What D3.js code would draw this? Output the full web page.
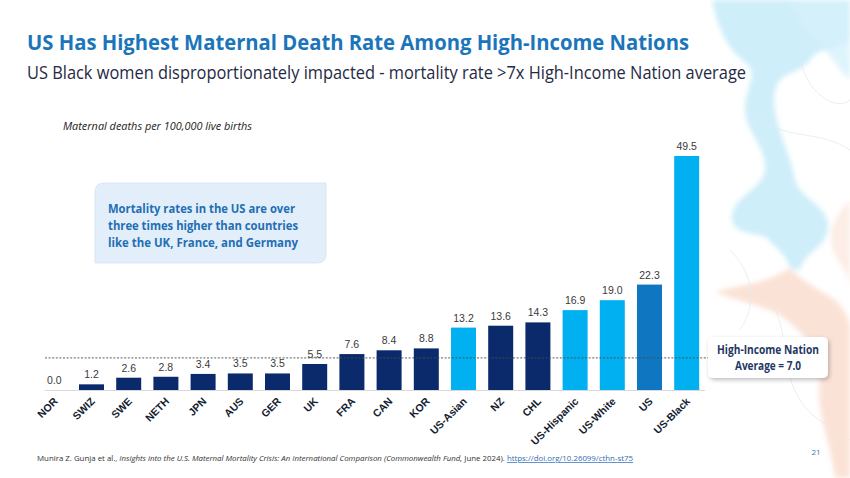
<!DOCTYPE html>
<html><head><meta charset="utf-8">
<script src="https://cdn.jsdelivr.net/npm/d3@7/dist/d3.min.js"></script>
<style>html,body{margin:0;padding:0;background:#fff;}svg{display:block;}</style>
</head><body>
<svg id="chart" width="850" height="478"></svg>
<script>
const categories = ["NOR","SWIZ","SWE","NETH","JPN","AUS","GER","UK","FRA","CAN","KOR","US-Asian","NZ","CHL","US-Hispanic","US-White","US","US-Black"];
const values = [0.0,1.2,2.6,2.8,3.4,3.5,3.5,5.5,7.6,8.4,8.8,13.2,13.6,14.3,16.9,19.0,22.3,49.5];
const groups = ["country","country","country","country","country","country","country","country","country","country","country","us-sub","country","country","us-sub","us-sub","us","us-sub"];
const averageValue = 7.0;
const titleText = "US Has Highest Maternal Death Rate Among High-Income Nations";
const subtitleText = "US Black women disproportionately impacted - mortality rate >7x High-Income Nation average";
const unitText = "Maternal deaths per 100,000 live births";
const calloutLines = ["Mortality rates in the US are over","three times higher than countries","like the UK, France, and Germany"];
const avgLines = ["High-Income Nation","Average = 7.0"];

const colors = {country:"#0b2a6b","us-sub":"#00b0f0",us:"#0f76c2"};
const svg = d3.select("#chart");

// background decoration
const defs = svg.append("defs");
defs.append("filter").attr("id","blur").append("feGaussianBlur").attr("stdDeviation",2.5);
const sh = defs.append("filter").attr("id","shadow").attr("x","-20%").attr("y","-20%").attr("width","150%").attr("height","160%");
sh.append("feDropShadow").attr("dx",1.5).attr("dy",2).attr("stdDeviation",2).attr("flood-color","#000").attr("flood-opacity",0.25);
const deco = svg.append("g").attr("filter","url(#blur)");
deco.append("path").attr("fill","#c6ebf8").attr("opacity",0.85)
  .attr("d","M712,0 L850,0 L850,40 C830,55 820,45 810,60 C800,75 780,70 775,90 C770,120 790,150 795,180 C800,200 830,205 828,228 C825,250 805,250 800,270 L790,268 C785,250 770,245 768,238 C755,232 730,235 732,215 C735,195 762,190 765,170 C768,150 745,130 745,110 C745,85 760,75 745,62 C735,55 720,40 712,0 Z");
deco.append("path").attr("fill","#d6f1fb").attr("opacity",0.8)
  .attr("d","M790,0 L850,0 L850,80 C838,70 828,50 815,40 C805,30 795,20 790,0 Z");
deco.append("path").attr("fill","#f9d8c8").attr("opacity",0.75)
  .attr("d","M790,268 C800,280 820,290 835,300 C845,310 850,320 850,330 L850,478 L835,478 C830,440 815,410 820,380 C822,350 800,330 780,315 C760,305 735,300 715,292 C735,285 765,285 790,268 Z");
deco.append("path").attr("fill","#fbe6dc").attr("opacity",0.7)
  .attr("d","M850,200 C835,215 825,235 835,255 C845,270 850,280 850,290 Z");
const lines = svg.append("g").attr("fill","none").attr("stroke","#e6e9ee").attr("stroke-width",0.8);
lines.append("path").attr("d","M760,120 C790,140 820,130 850,150");
lines.append("path").attr("d","M800,60 C810,100 840,110 850,100");
lines.append("path").attr("d","M770,300 C790,330 780,370 800,400 C810,420 840,430 850,440");
lines.append("path").attr("d","M730,250 C750,270 760,300 740,330");

// scales
const x = d3.scaleBand().domain(categories).range([35.7,705.3]).paddingInner(0.328).paddingOuter(0.164);
const y = d3.scaleLinear().domain([0,49.5]).range([390,156]);

// title
svg.append("text").attr("x",27).attr("y",50).attr("font-family","'Open Sans',sans-serif").attr("font-weight",700)
  .attr("font-size",21).attr("fill","#1b75bb").attr("textLength",662).attr("lengthAdjust","spacingAndGlyphs").text(titleText);
svg.append("text").attr("x",27).attr("y",78.5).attr("font-family","'Open Sans',sans-serif").attr("font-weight",400)
  .attr("font-size",18.5).attr("fill","#1f2a44").attr("textLength",719).attr("lengthAdjust","spacingAndGlyphs").text(subtitleText);
svg.append("text").attr("x",63).attr("y",130).attr("font-family","'Open Sans',sans-serif").attr("font-style","italic")
  .attr("font-size",10.5).attr("fill","#222").attr("textLength",189).attr("lengthAdjust","spacingAndGlyphs").text(unitText);

// baseline
svg.append("line").attr("x1",45).attr("x2",705).attr("y1",y(0)+0.5).attr("y2",y(0)+0.5).attr("stroke","#d9d9d9").attr("stroke-width",1);

// bars
const data = categories.map((c,i)=>({c,v:values[i],g:groups[i]}));
svg.append("g").selectAll("rect").data(data).join("rect")
  .attr("x",d=>x(d.c)).attr("width",x.bandwidth())
  .attr("y",d=>y(d.v)).attr("height",d=>y(0)-y(d.v))
  .attr("fill",d=>colors[d.g]);

// average dashed line
svg.append("line").attr("x1",45).attr("x2",708).attr("y1",y(averageValue)+1).attr("y2",y(averageValue)+1)
  .attr("stroke","#4a4a4a").attr("stroke-width",0.9).attr("stroke-dasharray","2,1.6");

// value labels
svg.append("g").selectAll("text").data(data).join("text")
  .attr("x",d=>x(d.c)+x.bandwidth()/2).attr("y",d=>y(d.v)-6)
  .attr("text-anchor","middle").attr("font-family","'Liberation Sans',Arial,sans-serif")
  .attr("font-size",10.5).attr("fill","#3a3a3a").text(d=>d.v.toFixed(1));

// category labels
const xAxis = svg.append("g").attr("transform",`translate(0,${y(0)})`).call(d3.axisBottom(x).tickSize(0).tickPadding(0));
xAxis.select(".domain").remove();
xAxis.selectAll("text")
  .attr("font-family","'Liberation Sans Narrow','Liberation Sans',Arial,sans-serif").attr("font-weight",700)
  .attr("font-size",10.5).attr("fill","#141c30")
  .attr("text-anchor","end").attr("dy",null)
  .attr("transform","translate(4,12) rotate(-45)");

// callout box (rounded diagonal corners)
const bx=95, by=183, bw=231, bh=80, r=9;
svg.append("path").attr("fill","#e2eef9").attr("stroke","#d3e3f2").attr("stroke-width",0.8)
  .attr("d",`M${bx+r},${by} L${bx+bw},${by} L${bx+bw},${by+bh-r} Q${bx+bw},${by+bh} ${bx+bw-r},${by+bh} L${bx},${by+bh} L${bx},${by+r} Q${bx},${by} ${bx+r},${by} Z`);
const clen=[187,190,190];
svg.append("g").selectAll("text").data(calloutLines).join("text")
  .attr("x",108).attr("y",(d,i)=>212.5+i*17).attr("font-family","'Open Sans',sans-serif").attr("font-weight",700)
  .attr("font-size",12.5).attr("fill","#1f6fb5").attr("textLength",(d,i)=>clen[i]).attr("lengthAdjust","spacingAndGlyphs").text(d=>d);

// average box
svg.append("rect").attr("x",708).attr("y",337).attr("width",120).attr("height",41).attr("rx",5)
  .attr("fill","#fff").attr("filter","url(#shadow)");
const alen=[102,66];
svg.append("g").selectAll("text").data(avgLines).join("text")
  .attr("x",768).attr("y",(d,i)=>354+i*15.5).attr("text-anchor","middle").attr("font-family","'Open Sans',sans-serif")
  .attr("font-weight",700).attr("font-size",11.5).attr("fill","#1f3864")
  .attr("textLength",(d,i)=>alen[i]).attr("lengthAdjust","spacingAndGlyphs").text(d=>d);

// footnote
const fn = svg.append("text").attr("x",37).attr("y",461).attr("font-family","'Open Sans',sans-serif")
  .attr("font-size",7.3).attr("fill","#333").attr("textLength",596).attr("lengthAdjust","spacingAndGlyphs");
fn.append("tspan").text("Munira Z. Gunja et al., ");
fn.append("tspan").attr("font-style","italic").text("Insights into the U.S. Maternal Mortality Crisis: An International Comparison (Commonwealth Fund, ");
fn.append("tspan").text("June 2024). ");
fn.append("tspan").attr("fill","#2f6db5").attr("text-decoration","underline").text("https://doi.org/10.26099/cthn-st75");

svg.append("text").attr("x",816).attr("y",455).attr("text-anchor","middle").attr("font-family","'Open Sans',sans-serif")
  .attr("font-size",8).attr("fill","#3a78b5").text("21");
</script>
</body></html>
